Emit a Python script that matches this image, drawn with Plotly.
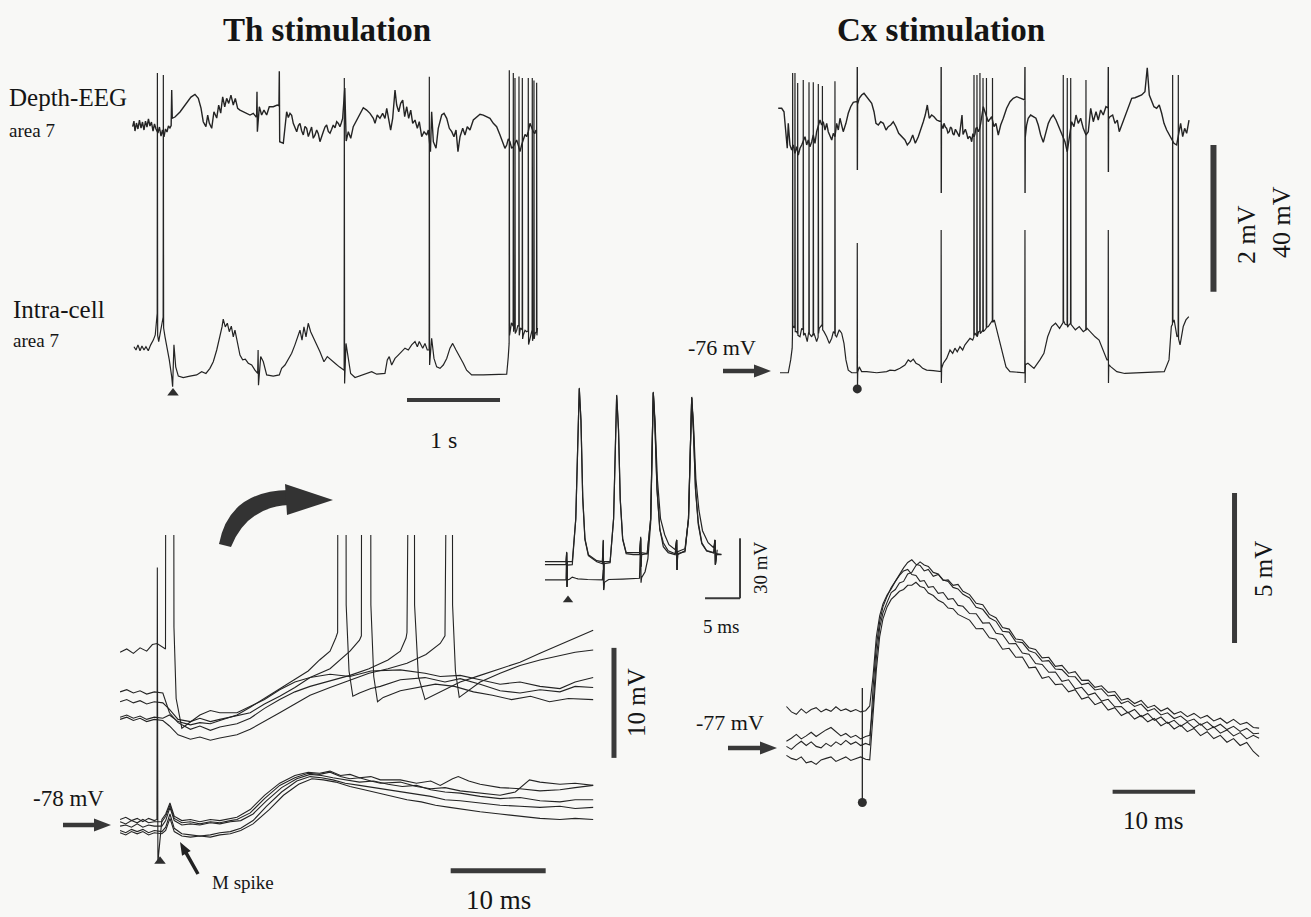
import math
import plotly.graph_objects as go

W, H = 1311, 917
INK = "#242424"
BAR = "#3a3a3a"
TXT = "#151515"
SERIF = "Liberation Serif"

# ---------------- slow sweeps: time (s), EEG (mV), membrane potential (mV) ----------------
th_eeg = [(0.104,0.045),(0.118,0.122),(0.129,-0.014),(0.145,0.095),(0.161,0.014),(0.177,0.136),(0.194,0.027),(0.210,0.109),(0.226,0.0),(0.242,0.122),(0.258,0.041),(0.274,0.150),(0.290,0.054),(0.306,0.109),(0.323,-0.014),(0.339,0.082),(0.355,0.014),(0.376,-0.041),(0.392,0.041),(0.409,-0.082),(0.425,0.0),(0.441,-0.095),(0.457,0.014),(0.473,-0.027),(0.489,0.054),(0.505,0.027),(0.518,0.06),(0.524,0.544),(0.530,0.16),(0.559,0.177),(0.613,0.245),(0.645,0.299),(0.677,0.354),(0.710,0.408),(0.731,0.449),(0.774,0.486),(0.810,0.431),(0.839,0.299),(0.863,0.113),(0.892,0.045),(0.911,0.204),(0.928,0.095),(0.954,0.023),(0.978,0.249),(1.008,0.163),(1.029,0.340),(1.051,0.231),(1.072,0.453),(1.094,0.317),(1.115,0.431),(1.137,0.363),(1.161,0.476),(1.186,0.340),(1.208,0.431),(1.233,0.295),(1.258,0.272),(1.294,0.249),(1.330,0.227),(1.366,0.204),(1.401,0.227),(1.430,0.181),(1.437,0.19),(1.441,0.521),(1.445,-0.023),(1.466,0.317),(1.491,0.204),(1.516,0.272),(1.545,0.204),(1.573,0.317),(1.616,0.317),(1.659,0.340),(1.677,0.33),(1.681,0.802),(1.685,-0.159),(1.724,-0.181),(1.760,0.249),(1.778,0.17),(1.796,0.227),(1.814,0.20),(1.831,0.091),(1.850,0.03),(1.868,-0.023),(1.886,0.06),(1.903,0.091),(1.921,-0.01),(1.939,-0.068),(1.957,0.05),(1.975,0.023),(1.993,-0.09),(2.011,-0.023),(2.028,0.04),(2.046,-0.113),(2.064,-0.07),(2.083,0.0),(2.100,-0.05),(2.118,-0.159),(2.136,-0.08),(2.154,-0.023),(2.172,0.04),(2.190,0.068),(2.208,-0.02),(2.226,-0.045),(2.244,0.01),(2.261,0.068),(2.280,0.03),(2.298,0.113),(2.316,0.09),(2.333,0.045),(2.348,0.10),(2.362,0.159),(2.385,0.571),(2.400,-0.150),(2.423,-0.023),(2.449,-0.113),(2.476,0.045),(2.513,0.136),(2.548,0.227),(2.584,0.303),(2.620,0.272),(2.656,0.227),(2.692,0.159),(2.710,0.091),(2.734,0.204),(2.763,0.159),(2.792,0.227),(2.817,0.159),(2.836,0.295),(2.857,0.113),(2.878,0.0),(2.900,0.159),(2.925,0.544),(2.943,0.340),(2.965,0.249),(2.986,0.363),(3.008,0.408),(3.029,0.181),(3.051,0.317),(3.072,0.159),(3.094,0.272),(3.115,0.091),(3.140,0.136),(3.165,0.023),(3.186,0.113),(3.212,-0.091),(3.237,-0.023),(3.266,-0.068),(3.283,0.0),(3.306,-0.295),(3.319,0.249),(3.337,-0.159),(3.366,-0.249),(3.390,0.023),(3.427,0.204),(3.452,0.227),(3.481,0.159),(3.509,0.023),(3.535,-0.023),(3.559,-0.091),(3.581,0.0),(3.602,-0.295),(3.624,-0.091),(3.653,0.023),(3.677,-0.068),(3.702,0.045),(3.731,0.0),(3.767,0.136),(3.803,0.181),(3.839,0.214),(3.874,0.204),(3.911,0.181),(3.946,0.159),(3.982,0.091),(4.018,0.045),(4.054,-0.068),(4.071,-0.12),(4.089,-0.181),(4.107,-0.25),(4.126,-0.204),(4.143,-0.12),(4.161,-0.159),(4.179,-0.25),(4.197,-0.227),(4.215,-0.17),(4.233,-0.136),(4.251,-0.21),(4.269,-0.295),(4.287,-0.20),(4.305,-0.136),(4.323,-0.06),(4.341,-0.091),(4.358,-0.02),(4.376,0.091),(4.394,0.03),(4.412,-0.023),(4.427,-0.05),(4.441,0.0)]

th_cell = [(0.118,-69.1),(0.140,-70.0),(0.161,-68.6),(0.183,-70.2),(0.204,-68.9),(0.226,-70.0),(0.247,-69.1),(0.272,-70.2),(0.298,-68.6),(0.326,-67.3),(0.347,-65.9),(0.362,-61.8),(0.368,-60.0),(0.370,5.5),(0.373,-66.0),(0.384,-67.7),(0.405,-64.6),(0.428,-62.0),(0.432,-61.0),(0.434,5.0),(0.437,-64.0),(0.452,-66.4),(0.476,-69.5),(0.498,-72.7),(0.524,-77.3),(0.534,-80.0),(0.548,-68.6),(0.567,-74.6),(0.595,-77.1),(0.648,-77.5),(0.720,-77.1),(0.792,-76.8),(0.846,-75.9),(0.892,-76.4),(0.935,-75.0),(0.971,-73.2),(1.008,-70.0),(1.043,-66.4),(1.065,-63.7),(1.078,-61.6),(1.100,-63.7),(1.122,-62.7),(1.143,-65.0),(1.165,-63.5),(1.186,-66.4),(1.204,-64.6),(1.229,-68.2),(1.258,-71.4),(1.287,-72.7),(1.315,-72.5),(1.347,-73.6),(1.384,-74.1),(1.419,-75.5),(1.448,-76.4),(1.453,-70.0),(1.457,-79.6),(1.481,-71.8),(1.509,-73.2),(1.545,-76.8),(1.616,-77.1),(1.681,-76.8),(1.706,-75.0),(1.742,-74.1),(1.777,-72.7),(1.814,-70.9),(1.849,-68.6),(1.878,-66.4),(1.903,-64.6),(1.925,-67.3),(1.946,-63.7),(1.968,-66.4),(1.992,-62.7),(2.018,-65.0),(2.046,-66.4),(2.083,-68.6),(2.118,-70.5),(2.161,-73.2),(2.197,-71.8),(2.233,-72.7),(2.280,-73.6),(2.326,-74.6),(2.369,-75.5),(2.378,-75.5),(2.380,4.2),(2.383,-79.1),(2.398,-68.2),(2.423,-72.7),(2.448,-76.4),(2.495,-77.5),(2.584,-76.8),(2.674,-75.9),(2.728,-76.6),(2.817,-76.4),(2.842,-72.7),(2.863,-71.8),(2.889,-74.1),(2.925,-72.3),(2.960,-71.4),(2.997,-70.5),(3.032,-69.5),(3.068,-70.0),(3.104,-68.6),(3.140,-67.7),(3.165,-69.1),(3.186,-67.7),(3.223,-69.5),(3.247,-68.2),(3.272,-70.0),(3.292,-70.0),(3.294,4.5),(3.297,-74.1),(3.319,-66.8),(3.344,-72.3),(3.373,-74.6),(3.409,-75.0),(3.444,-74.1),(3.481,-72.3),(3.516,-69.5),(3.545,-68.2),(3.581,-70.0),(3.624,-71.8),(3.659,-73.6),(3.695,-75.5),(3.749,-76.8),(3.874,-76.8),(4.018,-76.8),(4.126,-76.6),(4.143,-71.8),(4.152,-68.2),(4.154,6.3),(4.157,-66.0),(4.177,-62.6),(4.195,-63.5),(4.197,5.5),(4.200,-65.0),(4.206,-64.0),(4.213,-63.5),(4.215,4.2),(4.218,-65.5),(4.233,-64.6),(4.247,-63.2),(4.256,-63.5),(4.258,4.6),(4.261,-66.0),(4.274,-64.0),(4.292,-64.5),(4.294,4.2),(4.297,-67.0),(4.305,-65.9),(4.323,-64.6),(4.341,-65.0),(4.356,-64.8),(4.358,4.2),(4.361,-68.5),(4.369,-67.7),(4.382,-65.9),(4.394,-64.6),(4.399,-64.5),(4.401,4.2),(4.404,-67.5),(4.409,-66.7),(4.417,-66.0),(4.419,3.5),(4.422,-67.0),(4.430,-65.5),(4.446,-65.0),(4.448,2.9),(4.451,-66.0),(4.457,-64.0)]
th_stim = (0.538, -81.7)

cx_eeg = [(0.035,0.296),(0.072,0.296),(0.097,0.249),(0.118,-0.023),(0.132,-0.249),(0.143,0.091),(0.161,-0.204),(0.180,-0.273),(0.197,-0.204),(0.215,-0.318),(0.233,-0.228),(0.251,-0.341),(0.269,-0.249),(0.287,-0.204),(0.304,-0.160),(0.323,-0.091),(0.341,-0.204),(0.358,-0.136),(0.376,-0.228),(0.395,-0.160),(0.412,-0.068),(0.430,-0.181),(0.448,-0.023),(0.466,0.068),(0.484,0.136),(0.502,0.068),(0.519,0.113),(0.538,0.0),(0.556,0.091),(0.573,-0.023),(0.591,-0.091),(0.610,-0.136),(0.627,-0.045),(0.645,-0.091),(0.663,0.091),(0.681,0.0),(0.699,0.160),(0.717,0.045),(0.734,-0.023),(0.763,0.091),(0.788,0.228),(0.814,0.318),(0.842,0.378),(0.871,0.386),(0.884,0.38),(0.885,0.859),(0.886,-0.545),(0.888,0.35),(0.906,0.432),(0.932,0.477),(0.957,0.500),(0.986,0.454),(1.014,0.409),(1.040,0.364),(1.065,0.249),(1.086,0.091),(1.111,0.068),(1.137,0.113),(1.165,0.091),(1.194,0.0),(1.218,0.045),(1.244,0.068),(1.272,0.113),(1.301,0.045),(1.330,-0.045),(1.362,-0.091),(1.398,-0.136),(1.423,-0.204),(1.452,-0.160),(1.481,-0.068),(1.509,-0.181),(1.541,-0.091),(1.567,0.0),(1.595,0.113),(1.616,0.204),(1.638,0.341),(1.659,0.160),(1.685,0.204),(1.710,0.181),(1.739,0.136),(1.770,0.12),(1.786,0.12),(1.787,0.859),(1.788,-0.859),(1.790,0.08),(1.797,0.045),(1.807,0.02),(1.817,0.091),(1.832,0.04),(1.846,0.023),(1.860,-0.04),(1.874,-0.023),(1.887,0.04),(1.900,0.023),(1.912,-0.05),(1.925,-0.068),(1.940,0.01),(1.954,-0.023),(1.968,-0.06),(1.982,-0.091),(1.996,0.05),(2.011,0.204),(2.022,-0.06),(2.032,-0.023),(2.047,0.01),(2.061,-0.045),(2.075,-0.12),(2.089,-0.091),(2.102,-0.10),(2.115,-0.160),(2.128,-0.05),(2.140,-0.091),(2.150,-0.06),(2.161,0.023),(2.174,0.03),(2.186,-0.023),(2.199,0.01),(2.212,0.091),(2.240,0.318),(2.269,0.204),(2.294,0.113),(2.304,0.136),(2.330,0.181),(2.355,0.045),(2.376,0.091),(2.401,-0.068),(2.427,0.068),(2.455,0.160),(2.491,0.296),(2.527,0.386),(2.562,0.432),(2.599,0.454),(2.634,0.432),(2.670,0.409),(2.686,0.41),(2.688,0.859),(2.689,-0.859),(2.691,-0.1),(2.706,0.068),(2.723,0.160),(2.749,0.204),(2.777,0.181),(2.806,0.160),(2.831,0.068),(2.857,-0.068),(2.885,-0.168),(2.914,-0.045),(2.939,0.091),(2.965,0.160),(2.992,0.204),(3.022,0.136),(3.046,0.068),(3.072,-0.023),(3.094,-0.091),(3.118,-0.160),(3.143,-0.296),(3.165,-0.091),(3.190,0.113),(3.215,0.045),(3.237,0.204),(3.261,0.091),(3.287,0.160),(3.315,0.023),(3.344,-0.068),(3.369,-0.023),(3.395,0.296),(3.423,0.113),(3.452,0.249),(3.476,0.136),(3.502,0.273),(3.530,0.204),(3.559,0.318),(3.582,0.3),(3.584,0.859),(3.585,-0.573),(3.587,0.15),(3.602,0.181),(3.631,0.204),(3.656,0.091),(3.681,0.136),(3.702,-0.023),(3.728,0.068),(3.753,0.160),(3.782,0.249),(3.810,0.341),(3.836,0.432),(3.871,0.440),(3.906,0.454),(3.943,0.477),(3.978,0.522),(4.003,0.849),(4.025,0.477),(4.051,0.386),(4.075,0.318),(4.104,0.296),(4.132,0.341),(4.158,0.228),(4.183,0.091),(4.212,0.0),(4.240,-0.068),(4.266,-0.136),(4.290,-0.181),(4.319,-0.204),(4.341,-0.023),(4.362,0.091),(4.384,-0.091),(4.405,0.023),(4.427,-0.045),(4.452,0.136)]

cx_cell = [(0.054,-76.2),(0.143,-76.2),(0.169,-72.7),(0.185,-69.5),(0.188,-66.0),(0.190,5.5),(0.193,-64.0),(0.204,-63.6),(0.213,-64.0),(0.215,5.5),(0.218,-65.0),(0.233,-65.0),(0.242,-65.5),(0.244,2.8),(0.247,-66.0),(0.269,-66.4),(0.287,-64.1),(0.302,-64.5),(0.304,3.6),(0.307,-66.0),(0.323,-65.4),(0.347,-67.7),(0.360,-65.5),(0.364,-65.0),(0.366,3.0),(0.369,-65.5),(0.395,-66.4),(0.410,-65.5),(0.412,3.0),(0.415,-66.0),(0.419,-65.4),(0.448,-67.7),(0.464,-66.5),(0.466,2.5),(0.469,-65.5),(0.476,-64.1),(0.502,-63.2),(0.508,-63.5),(0.510,2.0),(0.513,-64.5),(0.527,-65.0),(0.556,-66.4),(0.584,-68.2),(0.610,-66.8),(0.628,-65.0),(0.643,-65.5),(0.645,3.3),(0.648,-66.0),(0.663,-66.4),(0.691,-64.5),(0.717,-65.4),(0.742,-68.2),(0.763,-72.7),(0.788,-75.5),(0.825,-76.2),(0.871,-76.2),(0.883,-76.2),(0.885,-40.8),(0.887,-80.0),(0.890,-76.0),(0.906,-74.6),(0.932,-75.9),(0.986,-75.9),(1.094,-76.2),(1.201,-75.9),(1.237,-75.5),(1.290,-75.6),(1.344,-75.0),(1.398,-74.1),(1.433,-72.7),(1.459,-73.2),(1.487,-72.5),(1.516,-73.6),(1.552,-74.1),(1.588,-75.0),(1.631,-75.5),(1.702,-75.6),(1.774,-75.9),(1.785,-75.9),(1.787,-37.3),(1.789,-79.0),(1.792,-75.0),(1.810,-73.6),(1.846,-72.3),(1.882,-70.0),(1.911,-70.9),(1.935,-69.5),(1.960,-70.5),(1.989,-69.1),(2.018,-70.0),(2.043,-68.6),(2.068,-67.7),(2.097,-66.8),(2.126,-67.3),(2.138,-66.5),(2.140,5.0),(2.143,-66.0),(2.151,-65.4),(2.170,-66.2),(2.172,5.0),(2.175,-66.4),(2.190,-65.0),(2.202,-64.8),(2.204,5.5),(2.207,-65.5),(2.225,-65.0),(2.235,-64.5),(2.237,4.2),(2.240,-65.0),(2.258,-64.5),(2.272,-64.0),(2.274,4.2),(2.277,-63.8),(2.294,-63.6),(2.337,-62.0),(2.339,4.2),(2.342,-62.5),(2.358,-61.8),(2.400,-66.0),(2.441,-70.9),(2.484,-74.6),(2.527,-75.9),(2.656,-76.2),(2.686,-76.2),(2.688,-37.3),(2.690,-79.0),(2.693,-74.0),(2.720,-73.6),(2.785,-75.0),(2.849,-72.7),(2.892,-70.9),(2.932,-66.4),(2.975,-63.6),(3.017,-62.7),(3.060,-64.1),(3.098,-62.5),(3.100,5.0),(3.103,-62.0),(3.120,-63.0),(3.141,-63.2),(3.143,4.2),(3.146,-63.8),(3.165,-63.0),(3.178,-62.8),(3.180,4.2),(3.183,-63.0),(3.230,-64.5),(3.272,-63.6),(3.315,-65.0),(3.342,-64.5),(3.344,3.6),(3.347,-64.5),(3.357,-64.1),(3.400,-65.4),(3.442,-66.4),(3.485,-67.3),(3.527,-70.0),(3.570,-72.7),(3.582,-72.7),(3.584,-37.3),(3.586,-79.0),(3.589,-74.0),(3.613,-74.6),(3.676,-75.9),(3.761,-76.4),(3.973,-76.2),(4.186,-75.9),(4.237,-72.7),(4.262,-63.6),(4.274,-63.0),(4.276,5.0),(4.279,-62.5),(4.292,-61.8),(4.323,-66.4),(4.335,-66.0),(4.337,5.0),(4.340,-67.0),(4.356,-68.6),(4.390,-63.6),(4.419,-61.8),(4.450,-60.9)]
cx_stim = (0.885, -80.6)

# ---------------- Th stimulation, fast sweeps: time (ms from shock), Vm (mV) ----------------
th_fast_up1 = [(-4.2,-68.2),(-3.5,-68.0),(-2.8,-68.3),(-2.1,-68.1),(-1.4,-68.4),(-0.6,-68.2),(0.3,-68.3),(1.0,-68.0),(1.9,-68.6),(3.2,-68.9),(4.2,-68.7),(5.3,-68.8),(6.3,-68.5),(7.4,-68.2),(8.1,-68.0),(9.5,-67.3),(11.0,-66.5),(12.6,-65.6),(14.2,-64.8),(15.6,-64.0),(16.8,-63.0),(17.9,-62.2),(18.5,-61.0),(18.7,-60.5),(18.8,15.0),(19.5,15.0),(19.6,-58.0),(19.9,-64.0),(20.3,-66.3),(21.0,-66.0),(22.2,-65.6),(23.2,-65.4),(25.3,-64.8),(27.9,-64.6),(30.0,-65.0),(31.6,-64.7),(33.7,-65.2),(35.8,-65.8),(37.9,-66.0),(40.0,-65.7),(42.1,-65.9),(43.7,-65.4),(45.6,-65.5)]
th_fast_up2 = [(-4.2,-66.8),(-3.5,-66.6),(-2.8,-66.9),(-2.1,-66.7),(-1.4,-67.0),(-0.6,-66.8),(0.3,-66.9),(1.0,-67.5),(1.9,-68.4),(3.2,-68.6),(4.2,-68.3),(5.3,-68.6),(6.3,-68.4),(8.1,-68.1),(9.5,-67.8),(11.0,-67.0),(12.6,-66.3),(14.2,-65.5),(15.8,-64.6),(17.9,-63.8),(19.0,-63.0),(20.0,-62.2),(21.0,-61.2),(21.2,-60.8),(21.3,15.0),(22.1,15.0),(22.2,-58.0),(22.5,-64.5),(22.9,-66.8),(23.5,-66.4),(25.3,-65.8),(27.0,-65.5),(29.0,-65.2),(31.0,-65.4),(33.0,-65.9),(35.0,-66.2),(37.0,-66.6),(39.0,-66.3),(41.0,-66.8),(43.0,-66.5),(45.6,-66.6)]
th_fast_up3 = [(-4.2,-65.9),(-3.5,-65.7),(-2.8,-66.0),(-2.1,-65.8),(-1.4,-66.1),(-0.6,-65.9),(0.3,-66.0),(1.0,-67.8),(1.9,-68.7),(3.2,-69.3),(4.2,-69.0),(5.3,-69.4),(6.3,-69.1),(8.1,-68.8),(9.5,-68.3),(11.0,-67.4),(12.6,-66.6),(14.2,-65.9),(15.8,-65.4),(17.9,-64.9),(20.0,-64.4),(22.0,-63.8),(24.0,-63.0),(25.3,-62.2),(25.9,-61.0),(26.0,-60.5),(26.1,15.0),(26.7,15.0),(26.8,-58.0),(27.2,-64.5),(27.9,-66.6),(28.8,-66.2),(30.0,-65.7),(31.6,-65.0),(33.7,-64.4),(35.8,-63.8),(37.9,-63.2),(40.0,-62.4),(42.1,-61.6),(43.7,-61.0),(45.6,-60.3)]
th_fast_up4 = [(-4.2,-68.4),(-3.5,-68.2),(-2.8,-68.5),(-2.1,-68.3),(-1.4,-68.6),(-0.6,-68.4),(0.3,-68.5),(1.0,-69.0),(1.9,-69.8),(3.2,-70.2),(4.2,-70.0),(5.3,-70.3),(6.3,-70.1),(8.1,-69.8),(9.5,-69.3),(11.0,-68.6),(12.6,-67.8),(14.2,-67.0),(15.8,-66.2),(17.9,-65.5),(20.0,-64.8),(22.0,-64.2),(24.0,-63.8),(26.0,-63.3),(28.0,-62.5),(29.5,-61.5),(30.0,-60.8),(30.1,15.0),(30.7,15.0),(30.8,-58.0),(31.1,-64.0),(31.5,-66.4),(32.5,-65.8),(33.7,-65.0),(35.8,-64.2),(37.9,-63.5),(40.0,-63.0),(42.1,-62.6),(43.7,-62.3),(45.6,-62.1)]
th_fast_up5 = [(-4.2,-62.3),(-3.5,-62.0),(-2.8,-62.4),(-2.1,-61.9),(-1.4,-62.2),(-0.8,-61.6),(-0.3,-61.5),(0.58,-62.0),(0.68,15.0),(1.37,15.0),(1.47,-60.0),(1.7,-66.5),(2.3,-69.2),(3.2,-68.6),(4.2,-68.0),(5.3,-67.6),(6.3,-67.8),(8.1,-67.8),(9.5,-67.2),(11.0,-66.6),(12.6,-65.7),(14.2,-65.0),(15.8,-64.6),(17.9,-64.3),(20.0,-64.5),(22.2,-64.0),(25.3,-63.9),(27.9,-64.2),(29.5,-64.5),(31.6,-64.4),(33.7,-64.8),(35.8,-65.2),(37.9,-65.0),(40.0,-65.4),(42.1,-65.6),(43.7,-65.0),(45.6,-64.6)]

th_fast_lo1 = [(-4.2,-77.5),(-3.6,-77.3),(-3.0,-77.6),(-2.4,-77.4),(-1.8,-77.7),(-1.2,-77.4),(-0.6,-77.6),(-0.32,-77.5),(-0.28,-54.6),(-0.22,-81.4),(0.2,-77.5),(0.6,-77.0),(1.05,-76.0),(1.5,-77.2),(2.3,-77.6),(3.2,-77.5),(4.2,-77.7),(5.3,-77.5),(6.3,-77.6),(7.4,-77.4),(8.1,-77.3),(9.5,-76.6),(11.0,-75.3),(12.6,-74.2),(14.2,-73.5),(15.6,-73.2),(16.8,-73.3),(17.9,-73.1),(19.0,-73.5),(20.0,-73.4),(21.0,-73.7),(22.2,-73.6),(23.2,-73.9),(25.3,-73.9),(27.0,-74.2),(28.5,-74.0),(29.5,-74.4),(30.8,-73.8),(31.4,-73.6),(32.5,-74.0),(33.7,-74.3),(35.8,-74.6),(37.9,-74.7),(40.0,-74.9),(42.1,-74.8),(43.7,-74.6),(45.6,-74.4)]
th_fast_lo2 = [(-4.2,-77.7),(-3.6,-77.9),(-3.0,-77.6),(-2.4,-77.8),(-1.8,-77.5),(-1.2,-77.8),(-0.6,-77.7),(0.2,-77.7),(0.6,-77.2),(1.05,-76.2),(1.5,-77.4),(2.3,-77.8),(3.2,-77.7),(4.2,-77.9),(5.3,-77.7),(6.3,-77.8),(7.4,-77.6),(8.1,-77.5),(9.5,-76.9),(11.0,-75.6),(12.6,-74.4),(14.2,-73.7),(15.6,-73.3),(16.8,-73.4),(17.9,-73.2),(19.0,-73.6),(20.0,-73.8),(21.0,-73.7),(22.2,-74.0),(23.2,-74.2),(25.3,-74.1),(27.0,-74.5),(28.5,-74.7),(30.0,-74.6),(31.6,-74.9),(33.7,-75.1),(35.8,-75.3),(37.4,-75.0),(38.9,-73.9),(40.0,-74.1),(42.1,-74.3),(43.7,-74.2),(45.6,-74.4)]
th_fast_lo3 = [(-4.2,-78.1),(-3.6,-78.0),(-3.0,-78.2),(-2.4,-77.9),(-1.8,-78.2),(-1.2,-78.0),(-0.6,-78.1),(0.2,-78.1),(0.6,-77.6),(1.05,-76.4),(1.5,-77.6),(2.3,-78.0),(3.2,-77.9),(4.2,-78.0),(5.3,-77.8),(6.3,-77.9),(7.4,-77.7),(8.5,-77.6),(9.8,-77.0),(11.2,-75.8),(12.8,-74.6),(14.4,-73.8),(15.8,-73.4),(17.0,-73.5),(18.2,-73.7),(19.5,-73.9),(21.0,-74.1),(22.5,-74.0),(24.0,-74.3),(25.5,-74.5),(27.0,-74.4),(28.5,-74.8),(30.0,-75.0),(31.6,-75.1),(33.7,-75.4),(35.8,-75.6),(37.9,-75.5),(40.0,-75.8),(42.1,-75.9),(43.7,-75.7),(45.6,-75.7)]
th_fast_lo4 = [(-4.2,-78.5),(-3.6,-78.7),(-3.0,-78.4),(-2.4,-78.6),(-1.8,-78.4),(-1.2,-78.7),(-0.6,-78.5),(0.2,-78.6),(0.6,-78.2),(1.05,-77.0),(1.5,-78.3),(2.3,-78.8),(3.2,-78.9),(4.2,-79.0),(5.3,-78.9),(6.3,-78.7),(7.4,-78.6),(8.5,-78.3),(9.8,-77.6),(11.2,-76.3),(12.8,-75.0),(14.4,-74.0),(15.8,-73.6),(17.0,-73.7),(18.2,-73.9),(19.5,-74.2),(21.0,-74.4),(22.5,-74.6),(24.0,-74.8),(25.5,-75.0),(27.0,-75.2),(28.5,-75.4),(30.0,-75.7),(31.6,-75.8),(33.7,-76.0),(35.8,-76.2),(37.9,-76.3),(40.0,-76.4),(42.1,-76.3),(43.7,-76.5),(45.6,-76.4)]
th_fast_lo5 = [(-4.2,-78.7),(-3.6,-78.9),(-3.0,-78.6),(-2.4,-78.8),(-1.8,-78.6),(-1.2,-78.9),(-0.6,-78.7),(0.2,-78.8),(0.6,-78.5),(1.05,-77.4),(1.5,-78.6),(2.3,-79.0),(3.2,-79.1),(4.2,-79.0),(5.3,-79.1),(6.3,-78.9),(7.4,-78.8),(8.5,-78.5),(9.8,-77.9),(11.5,-76.6),(13.0,-75.3),(14.6,-74.3),(16.0,-73.8),(17.2,-73.9),(18.5,-74.1),(20.0,-74.5),(21.5,-74.8),(23.0,-75.1),(24.5,-75.4),(26.0,-75.7),(27.5,-75.9),(29.0,-76.2),(30.5,-76.4),(32.0,-76.6),(33.7,-76.8),(35.8,-77.0),(37.9,-77.2),(40.0,-77.4),(42.1,-77.5),(43.7,-77.4),(45.6,-77.5)]
th_fast_stim = (0.0, -81.3)

# ---------------- train of thalamic shocks (inset): time (ms), Vm (mV) ----------------
train_a = [(-3.1,-61.5),(-0.1,-61.5),(0.0,-56.6),(0.05,-74.2),(0.1,-61.5),(0.8,-61.5),(1.3,-40.0),(1.8,25.4),(2.04,9.4),(2.29,-29.0),(2.61,-50.0),(3.1,-58.0),(4.3,-61.0),(5.1,-61.5),(5.23,-50.6),(5.28,-75.7),(5.35,-61.5),(6.2,-61.5),(6.7,-40.0),(7.14,21.9),(7.4,5.0),(7.65,-30.0),(8.0,-50.0),(8.5,-57.0),(9.5,-57.0),(10.4,-57.0),(10.57,-49.7),(10.62,-64.0),(10.7,-57.0),(11.5,-57.5),(12.0,-40.0),(12.37,23.4),(12.6,8.0),(12.9,-25.0),(13.3,-45.0),(13.8,-54.0),(14.5,-57.0),(15.5,-58.0),(15.71,-50.6),(15.76,-65.6),(15.85,-58.0),(16.9,-56.0),(17.4,-40.0),(17.86,20.9),(18.1,5.0),(18.4,-25.0),(18.8,-42.0),(19.3,-52.0),(20.0,-56.0),(21.0,-57.0),(21.19,-50.6),(21.24,-63.0),(21.4,-58.0),(22.1,-58.0)]
train_b = [(-3.1,-70.6),(-0.1,-70.6),(0.0,-57.0),(0.05,-74.0),(0.1,-70.6),(0.4,-70.3),(0.8,-69.2),(1.3,-69.8),(1.6,-70.1),(3.0,-70.4),(4.5,-70.6),(5.1,-70.6),(5.23,-65.6),(5.28,-75.7),(5.4,-71.8),(6.0,-70.4),(8.0,-70.2),(10.0,-70.0),(10.4,-69.8),(10.57,-49.0),(10.62,-72.0),(10.7,-69.5),(11.2,-66.5),(11.6,-60.0),(12.0,-42.0),(12.37,23.0),(12.6,10.0),(12.95,-20.0),(13.4,-40.0),(14.0,-48.0),(14.6,-53.0),(15.5,-55.5),(15.71,-50.6),(15.76,-65.6),(15.85,-56.5),(16.9,-55.0),(17.4,-40.0),(17.86,20.5),(18.1,8.0),(18.45,-20.0),(18.9,-36.0),(19.4,-46.0),(20.2,-52.0),(21.0,-54.5),(21.19,-50.6),(21.24,-63.0),(21.5,-55.5)]
train_c = [(-3.1,-63.0),(-0.1,-63.0),(0.0,-57.0),(0.05,-74.0),(0.1,-63.2),(0.8,-63.0),(1.3,-40.0),(1.8,25.0),(2.04,9.0),(2.29,-29.5),(2.61,-50.5),(3.1,-58.5),(4.3,-61.5),(5.1,-62.5),(5.23,-51.0),(5.28,-75.0),(5.35,-62.5),(6.2,-62.0),(6.7,-40.0),(7.14,21.5),(7.4,4.5),(7.65,-30.5),(8.0,-50.5),(8.5,-57.5),(9.5,-58.0),(10.4,-58.0),(10.57,-50.0),(10.62,-64.0),(10.7,-58.0),(11.5,-57.5),(12.0,-40.0),(12.37,23.0),(12.6,7.5),(12.9,-25.5),(13.3,-45.5),(13.8,-52.0),(14.5,-56.0),(15.5,-57.5),(15.71,-50.6),(15.76,-65.6),(15.85,-57.5),(16.9,-56.5),(17.4,-40.0),(17.86,20.5),(18.1,4.5),(18.4,-25.5),(18.8,-43.0),(19.3,-52.5),(20.0,-56.2),(21.0,-57.2),(21.19,-50.6),(21.24,-63.0),(21.4,-57.5),(22.1,-57.8)]
train_stim = (0.19, -80.65)

# ---------------- Cx stimulation, fast sweeps: common time base (ms), Vm (mV) ----------------
cx_fast_t = [-9.2,-8.6,-8.0,-7.4,-6.8,-6.2,-5.6,-5.0,-4.4,-3.8,-3.2,-2.6,-2.0,-1.4,-0.8,-0.2,0.4,0.9,
             1.3,1.7,2.1,2.5,3.0,3.5,4.0,4.5,5.0,5.5,6.0,6.5,7.0,7.5,8.0,8.6,9.2,9.8,10.4,11.0,11.6,12.2,
             13.0,13.8,14.6,15.4,16.2,17.0,17.8,18.6,19.4,20.2,21.0,21.8,22.6,23.4,24.2,25.0,25.8,26.6,27.4,28.2,
             29.0,29.8,30.6,31.4,32.2,33.0,33.8,34.6,35.4,36.2,37.0,37.8,38.6,39.4,40.2,41.0,41.8,42.6,43.4,44.2,
             45.0,45.8,46.6,47.4,48.1]
cx_fast_v1 = [-75.62,-75.80,-75.88,-75.70,-75.84,-75.72,-75.66,-75.80,-75.71,-75.78,-75.63,-75.76,-75.70,-75.79,-75.72,-75.80,-75.76,-75.60,
              -74.60,-73.30,-72.60,-72.20,-71.90,-71.70,-71.45,-71.20,-71.00,-70.82,-70.73,-70.88,-70.92,-71.10,-71.05,-71.28,-71.22,-71.42,-71.40,-71.58,-71.55,-71.78,
              -71.89,-72.18,-72.23,-72.55,-72.66,-72.99,-73.04,-73.37,-73.40,-73.66,-73.72,-74.00,-73.98,-74.28,-74.25,-74.51,-74.46,-74.75,-74.74,-74.98,
              -74.93,-75.15,-75.12,-75.41,-75.35,-75.52,-75.42,-75.66,-75.58,-75.77,-75.67,-75.87,-75.79,-75.96,-75.85,-76.01,-75.92,-76.10,-76.01,-76.18,
              -76.05,-76.22,-76.15,-76.32,-76.34]
cx_fast_v2 = [-76.78,-76.68,-76.55,-76.70,-76.60,-76.48,-76.62,-76.50,-76.40,-76.32,-76.45,-76.60,-76.52,-76.65,-76.58,-76.70,-76.62,-76.58,
              -75.60,-74.00,-73.00,-72.50,-72.15,-71.82,-71.72,-71.50,-71.45,-71.20,-71.15,-70.92,-70.80,-70.90,-70.95,-71.15,-71.20,-71.40,-71.45,-71.65,-71.70,-71.88,
              -72.00,-72.31,-72.38,-72.66,-72.78,-73.11,-73.14,-73.46,-73.49,-73.76,-73.84,-74.11,-74.09,-74.37,-74.39,-74.62,-74.63,-74.89,-74.84,-75.07,
              -75.03,-75.27,-75.24,-75.52,-75.44,-75.62,-75.54,-75.77,-75.69,-75.90,-75.83,-76.02,-75.94,-76.12,-76.04,-76.24,-76.13,-76.32,-76.21,-76.39,
              -76.28,-76.45,-76.35,-76.53,-76.51]
cx_fast_v3 = [-76.95,-77.05,-76.90,-76.78,-76.92,-76.80,-76.95,-77.00,-76.85,-76.95,-76.80,-76.90,-76.75,-76.88,-76.80,-76.92,-76.85,-76.90,
              -75.00,-73.60,-72.80,-72.30,-71.95,-71.65,-71.45,-71.25,-71.10,-71.05,-71.22,-71.25,-71.45,-71.42,-71.65,-71.62,-71.85,-71.82,-72.05,-72.02,-72.25,-72.28,
              -72.52,-72.53,-72.84,-72.83,-73.18,-73.22,-73.53,-73.52,-73.84,-73.88,-74.19,-74.22,-74.48,-74.47,-74.78,-74.73,-75.03,-74.98,-75.24,-75.17,
              -75.44,-75.38,-75.63,-75.62,-75.83,-75.72,-75.96,-75.85,-76.08,-75.97,-76.18,-76.08,-76.28,-76.14,-76.33,-76.20,-76.41,-76.30,-76.51,-76.40,
              -76.60,-76.49,-76.70,-76.58,-76.68]
cx_fast_v4 = [-77.25,-77.35,-77.40,-77.30,-77.50,-77.45,-77.55,-77.40,-77.35,-77.30,-77.45,-77.38,-77.30,-77.42,-77.35,-77.30,-77.38,-77.40,
              -75.90,-74.40,-73.30,-72.70,-72.30,-72.05,-71.92,-71.78,-71.72,-71.58,-71.58,-71.48,-71.62,-71.66,-71.84,-71.92,-72.08,-72.16,-72.34,-72.36,-72.55,-72.62,
              -72.74,-73.03,-73.02,-73.33,-73.38,-73.71,-73.68,-73.98,-73.97,-74.33,-74.31,-74.68,-74.62,-74.89,-74.87,-75.13,-75.06,-75.37,-75.30,-75.56,
              -75.47,-75.74,-75.66,-75.92,-75.81,-76.04,-75.92,-76.13,-76.02,-76.26,-76.14,-76.37,-76.24,-76.46,-76.35,-76.59,-76.46,-76.69,-76.58,-76.81,
              -76.69,-76.92,-76.82,-77.12,-77.29]
cx_fast_artifact = [-75.0, -78.8]
cx_fast_stim = (0.0, -78.82)

fig = go.Figure()


def line(points, xa, ya, width=1.2):
    t, v = zip(*points)
    fig.add_trace(go.Scatter(x=list(t), y=list(v), xaxis=xa, yaxis=ya, mode="lines",
                             line=dict(color=INK, width=width), hoverinfo="skip", showlegend=False))


def mark(point, xa, ya, symbol, size):
    fig.add_trace(go.Scatter(x=[point[0]], y=[point[1]], xaxis=xa, yaxis=ya, mode="markers",
                             marker=dict(symbol=symbol, size=size, color="#2e2e2e", line=dict(width=0)),
                             hoverinfo="skip", showlegend=False))


# slow sweeps
line(th_eeg, "x", "y2", 1.4)
line(th_cell, "x", "y", 1.2)
mark(th_stim, "x", "y", "triangle-up", 10)
line(cx_eeg, "x2", "y4", 1.4)
line(cx_cell, "x2", "y3", 1.2)
mark(cx_stim, "x2", "y3", "circle", 9)

# Th fast sweeps
for tr in (th_fast_lo5, th_fast_lo4, th_fast_lo3, th_fast_lo2, th_fast_lo1,
           th_fast_up1, th_fast_up2, th_fast_up3, th_fast_up4, th_fast_up5):
    line(tr, "x3", "y5", 1.1)
mark(th_fast_stim, "x3", "y5", "triangle-up", 10)

# inset train
for tr in (train_b, train_c, train_a):
    line(tr, "x4", "y6", 1.2)
mark(train_stim, "x4", "y6", "triangle-up", 9)

# Cx fast sweeps
for vals in (cx_fast_v4, cx_fast_v3, cx_fast_v2, cx_fast_v1):
    line(list(zip(cx_fast_t, vals)), "x5", "y7", 1.1)
line([(0.0, cx_fast_artifact[0]), (0.0, cx_fast_artifact[1])], "x5", "y7", 1.3)
mark(cx_fast_stim, "x5", "y7", "circle", 9)


def xax(p0, p1, r, anchor):
    return dict(domain=[p0 / W, p1 / W], range=r, visible=False, anchor=anchor, fixedrange=True)


def yax(top, bottom, r, anchor):
    return dict(domain=[1 - bottom / H, 1 - top / H], range=r, visible=False, anchor=anchor, fixedrange=True)


fig.update_layout(
    width=W, height=H, margin=dict(l=0, r=0, t=0, b=0),
    paper_bgcolor="#f8f8f6", plot_bgcolor="rgba(0,0,0,0)", showlegend=False,
    xaxis=xax(120, 548, [-0.032, 4.570], "y"),
    yaxis=yax(55, 410, [-86.36, 10.44], "x"),
    yaxis2=dict(overlaying="y", range=[-3.817, 1.0225], visible=False, anchor="x"),
    xaxis2=xax(772, 1225, [-0.032, 4.839], "y3"),
    yaxis3=yax(55, 410, [-86.36, 10.44], "x2"),
    yaxis4=dict(overlaying="y3", range=[-3.817, 1.0225], visible=False, anchor="x2"),
    xaxis3=xax(118, 625, [-4.42, 48.95], "y5"),
    yaxis5=yax(535, 880, [-83.0, -51.64], "x3"),
    xaxis4=xax(540, 770, [-3.81, 29.04], "y6"),
    yaxis6=yax(380, 610, [-85.65, 29.35], "x4"),
    xaxis5=xax(780, 1270, [-9.98, 49.42], "y7"),
    yaxis7=yax(480, 810, [-79.07, -68.07], "x5"),
)


# calibration bars, in each panel's own units
def hbar(xa, ya, x0, length, y, w):
    fig.add_shape(type="line", xref=xa, yref=ya, x0=x0, x1=x0 + length, y0=y, y1=y,
                  line=dict(color=BAR, width=w))


def vbar(xa, ya, x, y0, length, w):
    fig.add_shape(type="line", xref=xa, yref=ya, x0=x, x1=x, y0=y0, y1=y0 + length,
                  line=dict(color=BAR, width=w))


hbar("x", "y", 3.054, 1.0, -83.6, 4)          # 1 s
vbar("x2", "y3", 4.715, -54.1, 40.0, 6)       # 40 mV (2 mV EEG)
hbar("x3", "y5", 30.6, 10.0, -82.15, 5)       # 10 ms
vbar("x3", "y5", 47.79, -71.9, 10.0, 5)       # 10 mV
hbar("x4", "y6", 19.76, 5.0, -79.8, 2)        # 5 ms
vbar("x4", "y6", 24.76, -79.8, 30.0, 2)       # 30 mV
hbar("x5", "y7", 30.34, 10.0, -78.46, 4)      # 10 ms
vbar("x5", "y7", 45.12, -73.5, 5.0, 5)        # 5 mV


def P(x, y):
    return f"{x / W:.5f},{1 - y / H:.5f}"


def arrow(x0, y0, x1, y1, shaft=4.5, head_l=17, head_w=13, color="#383838"):
    d = math.hypot(x1 - x0, y1 - y0)
    ux, uy = (x1 - x0) / d, (y1 - y0) / d
    nx, ny = -uy, ux
    bx, by = x1 - ux * head_l, y1 - uy * head_l
    pts = [(x0 + nx * shaft / 2, y0 + ny * shaft / 2), (bx + nx * shaft / 2, by + ny * shaft / 2),
           (bx + nx * head_w / 2, by + ny * head_w / 2), (x1, y1),
           (bx - nx * head_w / 2, by - ny * head_w / 2), (bx - nx * shaft / 2, by - ny * shaft / 2),
           (x0 - nx * shaft / 2, y0 - ny * shaft / 2)]
    path = "M " + " L ".join(P(*p) for p in pts) + " Z"
    fig.add_shape(type="path", xref="paper", yref="paper", path=path,
                  fillcolor=color, line=dict(width=0))


arrow(723, 371, 771, 371)
arrow(63, 825, 111, 825)
arrow(728, 748, 777, 748)
arrow(198, 874, 180, 842, shaft=3.5, head_l=13, head_w=10, color="#222")

# curved arrow linking the sweeps to the spike train
fig.add_shape(type="path", xref="paper", yref="paper",
              path=f"M {P(219, 544)} Q {P(229, 491)} {P(289, 490)} L {P(289, 505)} Q {P(247, 507)} {P(231, 547)} Z",
              fillcolor="#333", line=dict(width=0))
fig.add_shape(type="path", xref="paper", yref="paper",
              path=f"M {P(285, 484)} L {P(333, 500)} L {P(287, 515)} Z",
              fillcolor="#333", line=dict(width=0))


def label(text, x, y, size, bold=False, angle=0, anchor="center"):
    fig.add_annotation(x=x / W, y=1 - y / H, xref="paper", yref="paper",
                       text=f"<b>{text}</b>" if bold else text, showarrow=False,
                       textangle=angle, xanchor=anchor, yanchor="middle",
                       font=dict(family=SERIF, size=size, color=TXT))


label("Th stimulation", 327, 30, 33, bold=True)
label("Cx stimulation", 941, 30, 33, bold=True)
label("Depth-EEG", 7, 98, 25, anchor="left")
label("area 7", 7, 131, 19, anchor="left")
label("Intra-cell", 11, 309, 25, anchor="left")
label("area 7", 11, 340, 19, anchor="left")
label("1 s", 443, 440, 24)
label("-76 mV", 722, 347, 22)
label("2 mV", 1246, 235, 26, angle=-90)
label("40 mV", 1281, 222, 26, angle=-90)
label("30 mV", 760, 568, 19, angle=-90)
label("5 ms", 721, 626, 19)
label("10 mV", 636, 703, 25, angle=-90)
label("-78 mV", 68, 798, 23)
label("M spike", 243, 882, 19)
label("10 ms", 498, 900, 27)
label("-77 mV", 730, 722, 22)
label("5 mV", 1263, 569, 25, angle=-90)
label("10 ms", 1153, 820, 25)

fig.write_html("out.html")
